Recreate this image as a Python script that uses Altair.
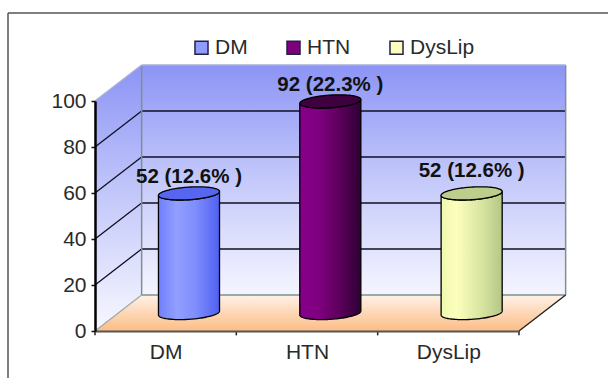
import numpy as np
import pandas as pd
import altair as alt

categories = ["DM", "HTN", "DysLip"]
values = [52, 92, 52]
percents = [12.6, 22.3, 12.6]
label_lift = [0.0, 0.0, 3.0]
legend_colors = ["#8f9cfb", "#7d007d", "#fbfdbc"]
tick_values = [0, 20, 40, 60, 80, 100]

FONT = "Liberation Sans"
DEPTH_X = 0.33      # receding floor shift, in category widths
DEPTH_Y = 15.65     # receding floor shift, in value units
RX, RY, SHEAR = 0.216, 2.75, 0.85  # cylinder ellipse radii and tilt

x_scale = alt.Scale(domain=[0, 3], nice=False, zero=False)
y_scale = alt.Scale(domain=[0, 100], nice=False, zero=False)

# Every layer shares these, so Vega-Lite merges them into one axis per side
x_axis = alt.Axis(
    values=[0.5, 1.5, 2.5],
    labelExpr="datum.value < 1 ? 'DM' : datum.value < 2 ? 'HTN' : 'DysLip'",
    grid=False, tickSize=0, labelFont=FONT, labelFontSize=21,
    labelColor="#2a2a2a", labelPadding=10, domainColor="#555555",
    domainWidth=2, zindex=1, labelFlush=False, labelOverlap=False, title=None,
)
y_axis = alt.Axis(
    values=tick_values, grid=False, tickSize=4, tickWidth=1.5,
    tickColor="#111111", labelFont=FONT, labelFontSize=21,
    labelColor="#2a2a2a", labelPadding=5, domainColor="#000000",
    domainWidth=2.5, zindex=1, title=None,
)


def gradient(stops, vertical=False):
    return alt.LinearGradient(
        gradient="linear",
        x1=0, y1=0,
        x2=0 if vertical else 1,
        y2=1 if vertical else 0,
        stops=[alt.GradientStop(offset=o, color=c) for o, c in stops],
    )


def X(field="x"):
    return alt.X(f"{field}:Q", scale=x_scale, axis=x_axis)


def Y(field="y"):
    return alt.Y(f"{field}:Q", scale=y_scale, axis=y_axis)


# Back wall, side wall and floor of the box
back_wall = (
    alt.Chart(pd.DataFrame({"x": [DEPTH_X], "x2": [3 + DEPTH_X],
                            "y": [DEPTH_Y], "y2": [100 + DEPTH_Y]}))
    .mark_rect(fill=gradient([(0, "#8c94f5"), (0.5, "#c4c9fa"), (1, "#f5f5ff")], vertical=True))
    .encode(x=X(), x2="x2:Q", y=Y(), y2="y2:Q")
)
side_wall = (
    alt.Chart(pd.DataFrame({"x": [0, DEPTH_X], "y": [0, DEPTH_Y],
                            "y2": [100, 100 + DEPTH_Y]}))
    .mark_area(fill=gradient([(0, "#8c94f5"), (0.5, "#c4c9fa"), (1, "#f8f8ff")], vertical=True))
    .encode(x=X(), y=Y(), y2="y2:Q")
)
floor = (
    alt.Chart(pd.DataFrame({"y": [0, DEPTH_Y], "x": [0, DEPTH_X],
                            "x2": [3, 3 + DEPTH_X]}))
    .mark_area(orient="horizontal",
               fill=gradient([(0, "#fff1e6"), (1, "#fbbd86")], vertical=True))
    .encode(y=Y(), x=X(), x2="x2:Q")
)


def rules(rows, color, width):
    return (
        alt.Chart(pd.DataFrame(rows, columns=["x", "y", "x2", "y2"]))
        .mark_rule(color=color, strokeWidth=width)
        .encode(x=X(), y=Y(), x2="x2:Q", y2="y2:Q")
    )


inner = [v for v in tick_values if 0 < v < 100]
grid_back = rules([(DEPTH_X, v + DEPTH_Y, 3 + DEPTH_X, v + DEPTH_Y) for v in inner], "#101020", 1.5)
grid_side = rules([(0, v, DEPTH_X, v + DEPTH_Y) for v in inner], "#101020", 1.3)
box_edges = rules([
    (DEPTH_X, DEPTH_Y, DEPTH_X, 100 + DEPTH_Y),
    (3 + DEPTH_X, DEPTH_Y, 3 + DEPTH_X, 100 + DEPTH_Y),
    (DEPTH_X, DEPTH_Y, 3 + DEPTH_X, DEPTH_Y),
], "#7d9090", 1.5)
top_edges = rules([
    (0, 100, DEPTH_X, 100 + DEPTH_Y),
    (DEPTH_X, 100 + DEPTH_Y, 3 + DEPTH_X, 100 + DEPTH_Y),
], "#a9aed8", 1.5)
floor_left = rules([(0, 0, DEPTH_X, DEPTH_Y)], "#a0a8a8", 1.2)
floor_right = rules([(3, 0, 3 + DEPTH_X, DEPTH_Y)], "#222222", 1.4)
cat_ticks = rules([(i, 0, i, -1.9) for i in range(4)], "#222222", 1.5)

# Cylinder colours: side shading left to right, then the lid
side_shades = [
    [(0, "#6f7ffb"), (0.3, "#929fff"), (0.6, "#7f8efc"), (1, "#4f60f2")],
    [(0, "#85008a"), (0.3, "#800080"), (0.65, "#5c005c"), (1, "#2f0034")],
    [(0, "#eef8ae"), (0.25, "#fdffbc"), (0.65, "#d8e6a2"), (1, "#b5c786")],
]
lid_colors = ["#5666ee", "#3f0040", "#bccd8c"]


def ellipse_arc(center, base):
    t = np.linspace(np.pi, 0, 61)
    x = center + RX * np.cos(t)
    tilt = SHEAR * np.cos(t)
    return x, base + tilt + RY * np.sin(t), base + tilt - RY * np.sin(t)


cylinders = []
for i, v in enumerate(values):
    cx = i + 0.5 + DEPTH_X / 2
    y0 = DEPTH_Y / 2
    x, _, low0 = ellipse_arc(cx, y0)
    _, up1, low1 = ellipse_arc(cx, y0 + v)
    body = (
        alt.Chart(pd.DataFrame({"x": x, "y": low0, "y2": low1}))
        .mark_area(fill=gradient(side_shades[i]), stroke="#000000", strokeWidth=1.3)
        .encode(x=X(), y=Y(), y2="y2:Q")
    )
    lid = (
        alt.Chart(pd.DataFrame({"x": x, "y": up1, "y2": low1}))
        .mark_area(fill=lid_colors[i], stroke="#000000", strokeWidth=1.3)
        .encode(x=X(), y=Y(), y2="y2:Q")
    )
    cylinders += [body, lid]

labels = (
    alt.Chart(pd.DataFrame({
        "x": [i + 0.5 + DEPTH_X / 2 for i in range(3)],
        "y": [v + DEPTH_Y / 2 + lift for v, lift in zip(values, label_lift)],
        "text": [f"{v} ({p}% )" for v, p in zip(values, percents)],
    }))
    .mark_text(font=FONT, fontSize=20.5, fontWeight="bold", color="#111111", dy=-16)
    .encode(x=X(), y=Y(), text="text:N")
)

legend_layer = (
    alt.Chart(pd.DataFrame({"name": categories, "x": [0.5, 1.5, 2.5], "y": [0, 0, 0]}))
    .mark_point(filled=True, opacity=0, shape="square")
    .encode(
        x=X(), y=Y(),
        color=alt.Color("name:N",
                        scale=alt.Scale(domain=categories, range=legend_colors),
                        legend=alt.Legend(
                            title=None, orient="none", direction="horizontal",
                            columns=3, legendX=96, legendY=-64, padding=0,
                            symbolType="square", symbolSize=170, symbolOpacity=1,
                            symbolStrokeColor="#222244", symbolStrokeWidth=1.5,
                            labelFont=FONT, labelFontSize=21, labelColor="#2a2a2a",
                            labelOffset=3, columnPadding=35,
                        )),
    )
)

# Chart frame along the top and left
frame_left = alt.Chart(pd.DataFrame({"a": [0]})).mark_rule(color="#555555", strokeWidth=1.5).encode(
    x=alt.value(-87), x2=alt.value(-87), y=alt.value(-88), y2=alt.value(277))
frame_top = alt.Chart(pd.DataFrame({"a": [0]})).mark_rule(color="#555555", strokeWidth=1.5).encode(
    x=alt.value(-87), x2=alt.value(513), y=alt.value(-88), y2=alt.value(-88))

chart = alt.layer(
    back_wall, side_wall, floor, grid_back, grid_side, box_edges,
    top_edges, floor_left, floor_right, cat_ticks, *cylinders, labels,
    legend_layer, frame_left, frame_top,
).properties(
    width=424, height=230,
    padding={"left": 95, "top": 101, "right": 89, "bottom": 47},
    autosize=alt.AutoSizeParams(type="none"),
    background="white",
).configure_view(stroke=None)

chart.save("out.html", embed_options={"renderer": "svg", "actions": False})
